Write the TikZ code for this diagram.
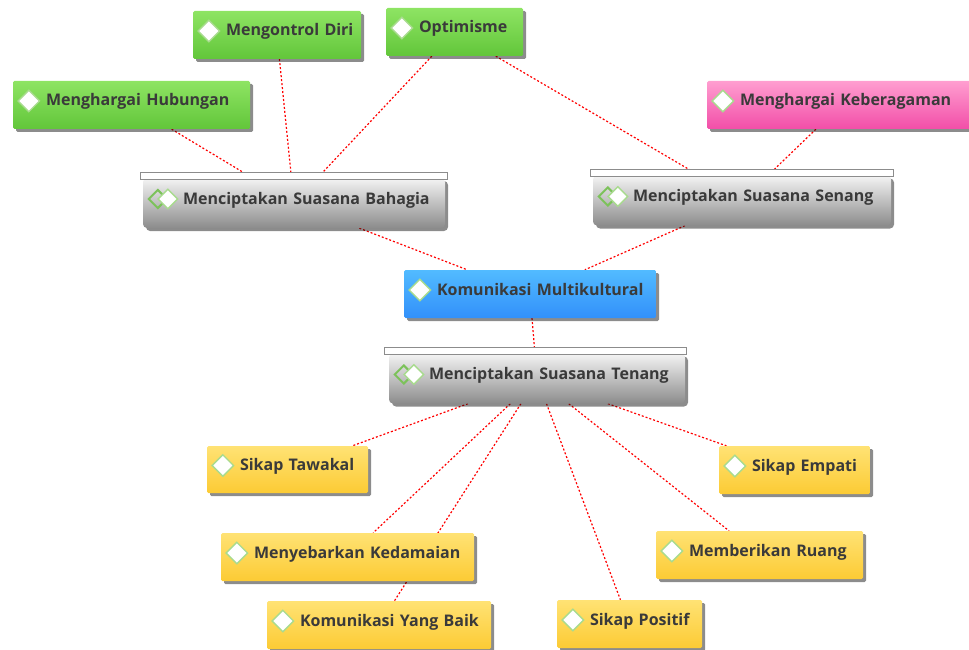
\documentclass[tikz,border=0pt]{standalone}
\usepackage{fontspec}
\setmainfont{Open Sans}
\usetikzlibrary{shapes.geometric,shadows,backgrounds}
\definecolor{txt}{HTML}{3A3A3A}
\definecolor{g1}{HTML}{8EE463}
\definecolor{g2}{HTML}{62C63A}
\definecolor{p1}{HTML}{FF9ED0}
\definecolor{p2}{HTML}{F24EA8}
\definecolor{b1}{HTML}{52BBFF}
\definecolor{b2}{HTML}{3290FA}
\definecolor{y1}{HTML}{FFE274}
\definecolor{y2}{HTML}{FCCB34}
\definecolor{k1}{HTML}{F4F4F4}
\definecolor{k2}{HTML}{8C8C8C}
\definecolor{dg}{HTML}{A8DB8E}
\definecolor{dg2}{HTML}{7CC25A}
\newcommand\lpad[1]{\hspace*{#1pt}}
\tikzset{
  base/.style={rectangle, rounded corners=1.5pt, inner xsep=0pt, inner ysep=0pt,
    align=left, text=txt, font=\fontsize{16}{19}\selectfont\bfseries,
    text height=10pt, text depth=8pt, minimum height=48pt,
    drop shadow={shadow xshift=3pt, shadow yshift=-3pt, opacity=0.45, fill=black}},
  gbox/.style={base, top color=g1, bottom color=g2},
  pbox/.style={base, top color=p1, bottom color=p2},
  bbox/.style={base, top color=b1, bottom color=b2},
  ybox/.style={base, top color=y1, bottom color=y2},
  kbox/.style={base, top color=k1, bottom color=k2, rounded corners=4pt, minimum height=50pt},
  hdr/.style={draw=k2, fill=white, line width=0.8pt},
  dia/.style={diamond, fill=white, draw=dg, line width=1.4pt, inner sep=0pt, minimum size=22pt},
  diao/.style={diamond, draw=dg2, line width=2pt, inner sep=0pt, minimum size=19pt},
  link/.style={red, line width=1.2pt, dash pattern=on 2pt off 2pt}
}
\begin{document}
\begin{tikzpicture}[x=1pt,y=-1pt]
\useasboundingbox (0,0) rectangle (969,650);
% nodes
\node[gbox, text width=237pt] (hub) at (131.5,105) {\lpad{33}Menghargai Hubungan};
\node[gbox, text width=168pt] (diri) at (277,35) {\lpad{33}Mengontrol Diri};
\node[gbox, text width=137pt] (opt) at (454.5,32) {\lpad{33}Optimisme};
\node[pbox, text width=268pt] (keb) at (841,105) {\lpad{33}Menghargai Keberagaman};
\node[kbox, text width=302pt] (bah) at (294,203) {\lpad{40}Menciptakan Suasana Bahagia};
\node[kbox, text width=298pt] (sen) at (742,200.5) {\lpad{40}Menciptakan Suasana Senang};
\node[bbox, text width=252pt] (kom) at (530,294) {\lpad{33}Komunikasi Multikultural};
\node[kbox, text width=296pt] (ten) at (537,378.5) {\lpad{40}Menciptakan Suasana Tenang};
\node[ybox, text width=161pt, minimum height=47pt] (taw) at (287.5,469.5) {\lpad{33}Sikap Tawakal};
\node[ybox, text width=151pt] (emp) at (794.5,470) {\lpad{33}Sikap Empati};
\node[ybox, text width=253pt] (dam) at (347.5,557) {\lpad{33}Menyebarkan Kedamaian};
\node[ybox, text width=207pt] (rua) at (759.5,555) {\lpad{33}Memberikan Ruang};
\node[ybox, text width=224pt] (baik) at (379,625) {\lpad{33}Komunikasi Yang Baik};
\node[ybox, text width=145pt] (pos) at (629.5,624) {\lpad{33}Sikap Positif};
% headers of grey nodes
\draw[hdr] ([xshift=-2pt,yshift=5pt]bah.north west) rectangle ([xshift=2pt,yshift=-2pt]bah.north east);
\draw[hdr] ([xshift=-2pt,yshift=6pt]sen.north west) rectangle ([xshift=2pt,yshift=-1pt]sen.north east);
\draw[hdr] ([xshift=-4pt,yshift=6pt]ten.north west) rectangle ([xshift=1pt,yshift=-1pt]ten.north east);
% icons
\foreach \n in {hub,diri,opt,keb,kom,taw,emp,dam,rua,baik,pos}
  \node[dia] (\n-i) at ([xshift=16pt,yshift=4pt]\n.west) {};
\foreach \n in {bah,sen,ten}{
  \node[diao] (\n-o) at ([xshift=15pt,yshift=4pt]\n.west) {};
  \node[dia, minimum size=20pt] (\n-i) at ([xshift=25pt,yshift=4pt]\n.west) {};
}
% connectors
\begin{scope}[on background layer]
\draw[link] (hub) -- (bah);
\draw[link] (diri) -- (bah);
\draw[link] (opt) -- (bah);
\draw[link] (opt) -- (sen);
\draw[link] (keb) -- (sen);
\draw[link] (bah) -- (kom);
\draw[link] (sen) -- (kom);
\draw[link] (kom) -- (ten);
\draw[link] (ten) -- (taw);
\draw[link] (ten) -- (dam);
\draw[link] (ten) -- (baik);
\draw[link] (ten) -- (pos);
\draw[link] (ten) -- (rua);
\draw[link] (ten) -- (emp);
\end{scope}
\end{tikzpicture}
\end{document}
